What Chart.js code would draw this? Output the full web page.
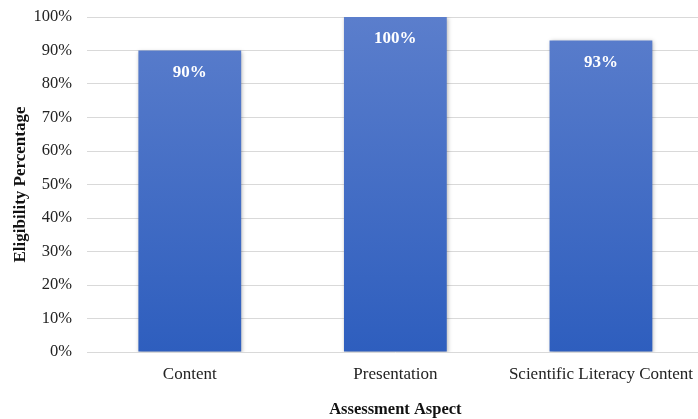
<!DOCTYPE html>
<html>
<head>
<meta charset="utf-8">
<script src="https://cdn.jsdelivr.net/npm/chart.js@4.4.1/dist/chart.umd.min.js"></script>
<style>
  html, body { margin: 0; padding: 0; background: #fff; overflow: hidden; }
  #wrap { width: 698px; height: 419px; overflow: hidden; position: relative; }
  #box { width: 705px; height: 419px; position: absolute; left: 0; top: 0; }
</style>
</head>
<body>
<div id="wrap"><div id="box"><canvas id="c"></canvas></div></div>
<script>
const categories = ['Content', 'Presentation', 'Scientific Literacy Content'];
const eligibility = [90, 100, 93];
const yTicks = [0, 10, 20, 30, 40, 50, 60, 70, 80, 90, 100];

const serif = '"Liberation Serif", "Times New Roman", serif';

// Soft drop shadow behind the bars
const barShadow = {
  id: 'barShadow',
  beforeDatasetsDraw(chart) {
    const ctx = chart.ctx;
    ctx.save();
    ctx.shadowColor = 'rgba(0,0,0,0.28)';
    ctx.shadowBlur = 4;
    ctx.shadowOffsetX = 1;
    ctx.shadowOffsetY = 1;
  },
  afterDatasetsDraw(chart) {
    chart.ctx.restore();
  }
};

// Value labels inside the top of each bar
const valueLabels = {
  id: 'valueLabels',
  afterDatasetsDraw(chart) {
    const ctx = chart.ctx;
    const meta = chart.getDatasetMeta(0);
    ctx.save();
    ctx.fillStyle = '#ffffff';
    ctx.font = 'bold 17px ' + serif;
    ctx.textAlign = 'center';
    ctx.textBaseline = 'middle';
    meta.data.forEach((bar, i) => {
      ctx.fillText(eligibility[i] + '%', bar.x, bar.y + 22);
    });
    ctx.restore();
  }
};

new Chart(document.getElementById('c'), {
  type: 'bar',
  data: {
    labels: categories,
    datasets: [{
      data: eligibility,
      backgroundColor(context) {
        const area = context.chart.chartArea;
        if (!area) return '#4472c4';
        const g = context.chart.ctx.createLinearGradient(0, area.top, 0, area.bottom);
        g.addColorStop(0, '#5b7ecc');
        g.addColorStop(1, '#2e5ebe');
        return g;
      },
      borderWidth: 0,
      categoryPercentage: 1,
      barPercentage: 0.5
    }]
  },
  options: {
    responsive: true,
    maintainAspectRatio: false,
    animation: false,
    layout: { padding: 0 },
    plugins: {
      legend: { display: false },
      tooltip: { enabled: false }
    },
    scales: {
      x: {
        grid: { display: false, drawTicks: false },
        border: { display: false },
        afterFit(axis) { axis.height = 67; },
        ticks: {
          color: '#222',
          font: { family: serif, size: 17 },
          padding: 12,
          maxRotation: 0,
          autoSkip: false
        },
        title: {
          display: true,
          text: 'Assessment Aspect',
          color: '#111',
          font: { family: serif, size: 16.5, weight: 'bold' },
          padding: { top: 11, bottom: -1 }
        }
      },
      y: {
        min: 0,
        max: 100,
        afterBuildTicks(axis) { axis.ticks = yTicks.map(v => ({ value: v })); },
        afterFit(axis) {
          axis.width = 87;
          axis.paddingTop = 17;
          axis.paddingBottom = 0;
        },
        grid: { color: '#d9d9d9', lineWidth: 1, drawTicks: false },
        border: { display: false },
        ticks: {
          color: '#222',
          font: { family: serif, size: 16.5 },
          padding: 15,
          callback: v => v + '%'
        },
        title: {
          display: true,
          text: 'Eligibility Percentage',
          color: '#111',
          font: { family: serif, size: 17, weight: 'bold' },
          padding: { top: 10, bottom: 4 }
        }
      }
    }
  },
  plugins: [barShadow, valueLabels]
});
</script>
</body>
</html>
